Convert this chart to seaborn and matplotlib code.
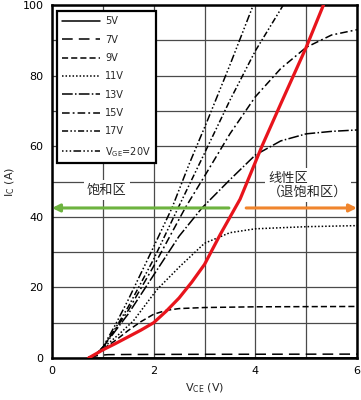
import matplotlib
matplotlib.use("Agg")
import matplotlib.pyplot as plt
import seaborn as sns
import pandas as pd

# ---- data ----
labels = ["5V", "7V", "9V", "11V", "13V", "15V", "17V", "V$_\\mathrm{GE}$=20V"]

vce_5 = [0.70, 6.00]
ic_5 = [0.0, 0.05]

vce_7 = [0.70, 0.90, 1.10, 1.50, 3.00, 6.00]
ic_7 = [0.0, 0.7, 0.95, 1.0, 1.05, 1.1]

vce_9 = [0.70, 0.85, 1.00, 1.25, 1.50, 1.75, 2.00, 2.25, 2.50, 3.00, 4.00, 6.00]
ic_9 = [0.0, 0.8, 2.5, 5.0, 7.8, 10.3, 12.4, 13.5, 14.0, 14.3, 14.5, 14.6]

vce_11 = [0.70, 0.85, 1.00, 1.30, 1.60, 2.06, 2.52, 3.00, 3.50, 4.00, 5.00, 6.00]
ic_11 = [0.0, 0.8, 2.8, 6.5, 10.5, 19.3, 26.0, 32.5, 35.5, 36.6, 37.2, 37.5]

vce_13 = [0.70, 0.85, 1.00, 1.50, 2.00, 2.50, 2.95, 3.50, 4.00, 4.50, 5.00, 5.50, 6.00]
ic_13 = [0.0, 0.8, 3.0, 12.5, 23.5, 34.5, 42.5, 50.5, 57.5, 61.5, 63.5, 64.2, 64.6]

vce_15 = [0.70, 0.85, 1.00, 1.50, 2.00, 2.62, 3.00, 3.50, 4.00, 4.50, 5.00, 5.50, 6.00]
ic_15 = [0.0, 0.8, 3.0, 13.5, 26.0, 42.5, 51.5, 63.5, 74.0, 82.0, 88.0, 91.5, 93.0]

vce_17 = [0.70, 0.85, 1.00, 1.25, 1.50, 2.00, 2.48, 3.00, 3.50, 4.00, 4.55]
ic_17 = [0.0, 0.8, 3.0, 8.5, 14.5, 28.0, 42.5, 58.0, 73.0, 87.0, 100.0]

vce_20 = [0.70, 0.85, 1.00, 1.25, 1.50, 1.75, 2.00, 2.36, 2.70, 3.05, 3.50, 3.96]
ic_20 = [0.0, 0.8, 3.0, 9.5, 16.5, 24.0, 31.5, 42.5, 55.0, 67.0, 83.0, 100.0]

vce_red = [0.72, 1.00, 1.25, 1.50, 1.75, 2.00, 2.25, 2.50, 2.75, 3.00, 3.31, 3.70, 4.13, 4.50, 5.00, 5.34]
ic_red = [0.0, 2.3, 4.1, 6.0, 7.9, 10.0, 13.3, 17.0, 21.5, 26.5, 35.0, 45.0, 60.0, 72.0, 88.0, 100.0]

region_left = "饱和区"
region_right = "线性区\n（退饱和区）"

# ---- styling ----
sns.set_style("white")
plt.rcParams['font.family'] = ['DejaVu Sans', 'Noto Sans CJK SC']
plt.rcParams['mathtext.fontset'] = 'dejavusans'

fig = plt.figure(figsize=(3.61, 4.0), dpi=100)
ax = fig.add_axes([52/361, 42/400, 305/361, 353/400])

series = [
    (vce_5, ic_5, "-"),
    (vce_7, ic_7, (0, (7, 4))),
    (vce_9, ic_9, (0, (4, 2))),
    (vce_11, ic_11, (0, (1, 1.3))),
    (vce_13, ic_13, (0, (7, 1.5, 1, 1.5))),
    (vce_15, ic_15, (0, (5, 2, 1.2, 2))),
    (vce_17, ic_17, (0, (4, 1.5, 1, 1.5, 1, 1.5))),
    (vce_20, ic_20, (0, (1, 1.5, 1, 1.5, 1, 1.5, 5, 1.5))),
]

for (xs, ys, ls), lab in zip(series, labels):
    df = pd.DataFrame({"VCE": xs, "IC": ys})
    sns.lineplot(data=df, x="VCE", y="IC", ax=ax, color="black", lw=1.1,
                 linestyle=ls, sort=False, estimator=None, label=lab, zorder=3)

df_red = pd.DataFrame({"VCE": vce_red, "IC": ic_red})
sns.lineplot(data=df_red, x="VCE", y="IC", ax=ax, color="#e8141c", lw=2.3,
             sort=False, estimator=None, zorder=4, legend=False)

ax.set_xlim(0, 6)
ax.set_ylim(0, 100)
ax.set_xticks([0, 2, 4, 6])
ax.set_xticks([1, 3, 5], minor=True)
ax.set_yticks([0, 20, 40, 60, 80, 100])
ax.set_yticks([10, 30, 50, 70, 90], minor=True)
ax.grid(True, which="both", color="#4a4a4a", lw=0.9, zorder=0)
ax.set_axisbelow(True)
for s in ax.spines.values():
    s.set_color("black")
    s.set_linewidth(1.8)
ax.tick_params(axis="both", which="major", direction="out", length=4, width=1,
               labelsize=8, colors="black", pad=2)
ax.tick_params(axis="both", which="minor", length=0)

ax.set_xlabel("V$_\\mathrm{CE}$ (V)", fontsize=8, labelpad=4)
ax.set_ylabel("I$_\\mathrm{C}$ (A)", fontsize=8, labelpad=4)

leg = ax.legend(loc="upper left", bbox_to_anchor=(0.018, 0.982), borderaxespad=0,
                fontsize=7.0, handlelength=3.9, handletextpad=0.5, labelspacing=0.86,
                frameon=True, fancybox=False, framealpha=1, borderpad=0.5)
leg.get_frame().set_edgecolor("black")
leg.get_frame().set_linewidth(1.6)
leg.set_zorder(6)

# region arrows
ax.annotate("", xy=(0.0, 42.5), xytext=(3.48, 42.5),
            arrowprops=dict(arrowstyle="-|>", color="#6db33f", lw=2.2,
                            mutation_scale=11, shrinkA=0, shrinkB=0), zorder=5)
ax.annotate("", xy=(6.0, 42.5), xytext=(3.82, 42.5),
            arrowprops=dict(arrowstyle="-|>", color="#f0852d", lw=2.2,
                            mutation_scale=11, shrinkA=0, shrinkB=0), zorder=5)

bbox = dict(facecolor="white", edgecolor="none", pad=2.5)
ax.text(1.08, 47.6, region_left, ha="center", va="center", fontsize=9.5,
        family=['Noto Sans CJK SC', 'DejaVu Sans'], bbox=bbox, zorder=2.5)
ax.text(4.25, 49.0, region_right, ha="left", va="center", fontsize=9.5,
        family=['Noto Sans CJK SC', 'DejaVu Sans'], bbox=bbox, zorder=2.5,
        linespacing=1.1)

fig.savefig("out.png", dpi=100)
